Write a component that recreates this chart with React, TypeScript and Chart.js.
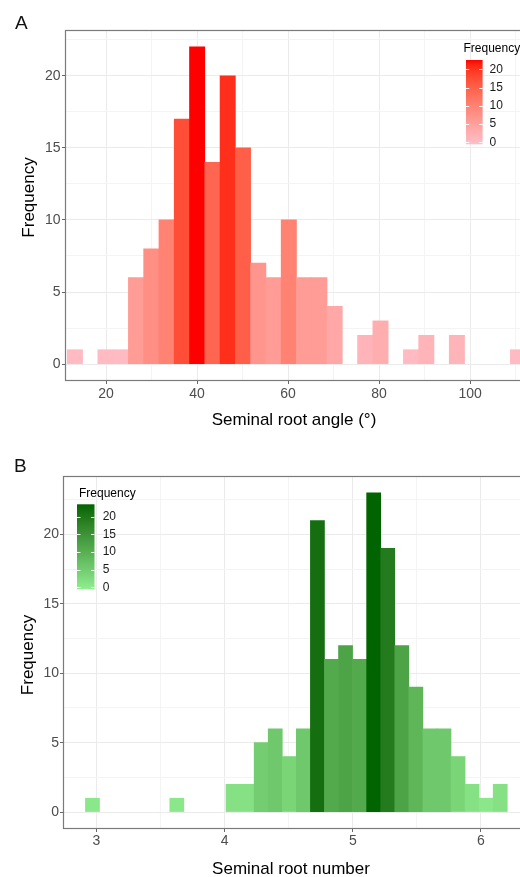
import React, { useEffect, useRef } from 'react';
import { Chart, registerables } from 'chart.js';

Chart.register(...registerables);

const FONT = '"Liberation Sans", Arial, Helvetica, sans-serif';

// ---- A: seminal root angle, 30-bin histogram ----
const angleBinFirstCentre = 13.17; // degrees
const angleBinWidth = 3.357;
const angleCounts = [1, 0, 1, 1, 6, 8, 10, 17, 22, 14, 20, 15, 7, 6, 10, 6, 6, 4, 0, 2, 3, 0, 1, 2, 0, 2, 0, 0, 0, 1];
const angleXMajor = [20, 40, 60, 80, 100];
const angleXMinor = [30, 50, 70, 90, 110];
const angleYMajor = [0, 5, 10, 15, 20];
const angleYMinor = [2.5, 7.5, 12.5, 17.5, 22.5];
const angleXLimits = [11.21, 112.5];
const angleYLimits = [-1.1, 23.1];

// ---- B: seminal root number, 30-bin histogram ----
const numberBinFirstCentre = 2.969;
const numberBinWidth = 0.1097;
const numberCounts = [1, 0, 0, 0, 0, 0, 1, 0, 0, 0, 2, 2, 5, 6, 4, 6, 21, 11, 12, 11, 23, 19, 12, 9, 6, 6, 4, 2, 1, 2];
const numberXMajor = [3, 4, 5, 6];
const numberXMinor = [3.5, 4.5, 5.5];
const numberYMajor = [0, 5, 10, 15, 20];
const numberYMinor = [2.5, 7.5, 12.5, 17.5, 22.5];
const numberXLimits = [2.747, 6.367];
const numberYLimits = [-1.15, 24.15];

const legendBreaks = [0, 5, 10, 15, 20];

// ---- colour ramp interpolated in CIELAB ----
function hexToRgb(h: string): number[] {
  const n = parseInt(h.slice(1), 16);
  return [(n >> 16) & 255, (n >> 8) & 255, n & 255];
}
const toLin = (c: number) => {
  c /= 255;
  return c <= 0.04045 ? c / 12.92 : Math.pow((c + 0.055) / 1.055, 2.4);
};
const fromLin = (c: number) => {
  const v = c <= 0.0031308 ? 12.92 * c : 1.055 * Math.pow(c, 1 / 2.4) - 0.055;
  return Math.round(Math.min(1, Math.max(0, v)) * 255);
};
const Xn = 0.95047, Yn = 1, Zn = 1.08883;
const fLab = (t: number) => (t > 0.008856 ? Math.cbrt(t) : 7.787 * t + 16 / 116);
const fLabInv = (t: number) => (t > 0.206893 ? t * t * t : (t - 16 / 116) / 7.787);
function rgbToLab(rgb: number[]): number[] {
  const [R, G, B] = rgb.map(toLin);
  const X = 0.4124 * R + 0.3576 * G + 0.1805 * B;
  const Y = 0.2126 * R + 0.7152 * G + 0.0722 * B;
  const Z = 0.0193 * R + 0.1192 * G + 0.9505 * B;
  const fx = fLab(X / Xn), fy = fLab(Y / Yn), fz = fLab(Z / Zn);
  return [116 * fy - 16, 500 * (fx - fy), 200 * (fy - fz)];
}
function labToRgb(lab: number[]): number[] {
  const [L, a, b] = lab;
  const fy = (L + 16) / 116, fx = fy + a / 500, fz = fy - b / 200;
  const X = Xn * fLabInv(fx), Y = Yn * fLabInv(fy), Z = Zn * fLabInv(fz);
  const R = 3.2406 * X - 1.5372 * Y - 0.4986 * Z;
  const G = -0.9689 * X + 1.8758 * Y + 0.0415 * Z;
  const B = 0.0557 * X - 0.204 * Y + 1.057 * Z;
  return [fromLin(R), fromLin(G), fromLin(B)];
}
function makeRamp(low: string, high: string) {
  const a = rgbToLab(hexToRgb(low));
  const b = rgbToLab(hexToRgb(high));
  return (t: number) => {
    const u = Math.min(1, Math.max(0, t));
    const [r, g, bl] = labToRgb(a.map((v, i) => v + (b[i] - v) * u));
    return `rgb(${r},${g},${bl})`;
  };
}

type PanelSpec = {
  tag: string;
  tagX: number;
  tagY: number;
  counts: number[];
  firstCentre: number;
  binWidth: number;
  xMajor: number[];
  xMinor: number[];
  yMajor: number[];
  yMinor: number[];
  xLimits: number[];
  yLimits: number[];
  low: string;
  high: string;
  xTitle: string;
  xTitlePos: number[];
  yTitle: string;
  yTitlePos: number[];
  padding: { top: number; right: number; left: number; bottom: number };
  yAxisWidth: number;
  xAxisHeight: number;
  xTickPad: number;
  yTickPad: number;
  legend: { titlePos: number[]; bar: number[]; labelX: number };
};

function makeDecor(spec: PanelSpec, ramp: (t: number) => string, maxCount: number) {
  return {
    id: 'panelDecor',
    afterDraw(chart: any) {
      const { ctx, chartArea: a } = chart;
      ctx.save();
      // panel frame
      ctx.strokeStyle = '#7a7a7a';
      ctx.lineWidth = 1.2;
      ctx.strokeRect(a.left - 0.5, a.top - 0.5, a.right - a.left + 1, a.bottom - a.top + 1);

      // panel tag
      ctx.fillStyle = '#111111';
      ctx.font = `19px ${FONT}`;
      ctx.textAlign = 'left';
      ctx.textBaseline = 'alphabetic';
      ctx.fillText(spec.tag, spec.tagX, spec.tagY);

      // axis titles
      ctx.fillStyle = '#000000';
      ctx.font = `17px ${FONT}`;
      ctx.textAlign = 'center';
      ctx.textBaseline = 'middle';
      ctx.fillText(spec.xTitle, spec.xTitlePos[0], spec.xTitlePos[1]);
      ctx.save();
      ctx.translate(spec.yTitlePos[0], spec.yTitlePos[1]);
      ctx.rotate(-Math.PI / 2);
      ctx.fillText(spec.yTitle, 0, 0);
      ctx.restore();

      // colour bar legend
      const L = spec.legend;
      const [bx, by, bw, bh] = L.bar;
      ctx.textAlign = 'left';
      ctx.font = `12px ${FONT}`;
      ctx.fillStyle = '#000000';
      ctx.fillText('Frequency', L.titlePos[0], L.titlePos[1]);
      const grad = ctx.createLinearGradient(0, by + bh, 0, by);
      for (let i = 0; i <= 20; i++) grad.addColorStop(i / 20, ramp(i / 20));
      ctx.fillStyle = grad;
      ctx.fillRect(bx, by, bw, bh);
      const inset = 2;
      ctx.strokeStyle = 'rgba(255,255,255,0.9)';
      ctx.lineWidth = 1;
      ctx.fillStyle = '#1a1a1a';
      legendBreaks.forEach((v) => {
        const y = by + bh - inset - (v / maxCount) * (bh - 2 * inset);
        const yy = Math.round(y) + 0.5;
        ctx.beginPath();
        ctx.moveTo(bx, yy);
        ctx.lineTo(bx + bw / 5, yy);
        ctx.moveTo(bx + bw - bw / 5, yy);
        ctx.lineTo(bx + bw, yy);
        ctx.stroke();
        ctx.fillText(String(v), L.labelX, y);
      });
      ctx.restore();
    },
  };
}

function axisOptions(major: number[], minor: number[], limits: number[], pad: number, fit: (s: any) => void) {
  const all = [...major, ...minor].sort((p, q) => p - q);
  const isMajor = (v: number) => major.includes(v);
  return {
    type: 'linear',
    min: limits[0],
    max: limits[1],
    offset: false,
    afterBuildTicks: (scale: any) => {
      scale.ticks = all.map((value) => ({ value }));
    },
    afterFit: fit,
    ticks: {
      autoSkip: false,
      maxRotation: 0,
      padding: pad,
      color: '#4D4D4D',
      font: { family: FONT, size: 14 },
      callback: (value: number) => (isMajor(value) ? String(value) : ''),
    },
    grid: {
      offset: false,
      drawTicks: true,
      tickLength: 4,
      lineWidth: 1,
      color: (c: any) => (c.tick && isMajor(c.tick.value) ? '#EBEBEB' : '#F4F4F4'),
      tickColor: (c: any) => (c.tick && isMajor(c.tick.value) ? '#666666' : 'rgba(0,0,0,0)'),
      tickWidth: 1,
    },
    border: { display: false },
  };
}

const CANVAS_W = 540;

function HistogramPanel({ spec, top, height }: { spec: PanelSpec; top: number; height: number }) {
  const ref = useRef<HTMLCanvasElement>(null);
  useEffect(() => {
    const maxCount = Math.max(...spec.counts);
    const ramp = makeRamp(spec.low, spec.high);
    // empty bins stay in the data (they fix the bar width) but draw nothing
    const points = spec.counts.map((c, i) => ({
      x: spec.firstCentre + i * spec.binWidth,
      y: c > 0 ? c : null,
    }));
    const chart = new Chart(ref.current as HTMLCanvasElement, {
      type: 'bar',
      data: {
        datasets: [
          {
            data: points as any,
            backgroundColor: spec.counts.map((c) => (c > 0 ? ramp(c / maxCount) : 'rgba(0,0,0,0)')),
            borderWidth: 0,
            barPercentage: 1,
            categoryPercentage: 1,
          },
        ],
      },
      options: {
        animation: false,
        responsive: false,
        devicePixelRatio: 1,
        layout: { padding: spec.padding },
        plugins: { legend: { display: false }, tooltip: { enabled: false } },
        scales: {
          x: axisOptions(spec.xMajor, spec.xMinor, spec.xLimits, spec.xTickPad, (s: any) => {
            s.height = spec.xAxisHeight;
          }) as any,
          y: axisOptions(spec.yMajor, spec.yMinor, spec.yLimits, spec.yTickPad, (s: any) => {
            s.width = spec.yAxisWidth;
          }) as any,
        },
      },
      plugins: [makeDecor(spec, ramp, maxCount)],
    });
    return () => chart.destroy();
  }, [spec]);
  return (
    <canvas
      ref={ref}
      width={CANVAS_W}
      height={height}
      style={{ position: 'absolute', left: 0, top, width: CANVAS_W, height }}
    />
  );
}

const angleSpec: PanelSpec = {
  tag: 'A',
  tagX: 15,
  tagY: 28.5,
  counts: angleCounts,
  firstCentre: angleBinFirstCentre,
  binWidth: angleBinWidth,
  xMajor: angleXMajor,
  xMinor: angleXMinor,
  yMajor: angleYMajor,
  yMinor: angleYMinor,
  xLimits: angleXLimits,
  yLimits: angleYLimits,
  low: '#FFC0CB',
  high: '#FF0000',
  xTitle: 'Seminal root angle (°)',
  xTitlePos: [294, 420.5],
  yTitle: 'Frequency',
  yTitlePos: [29, 197.5],
  padding: { top: 31, right: CANVAS_W - 527, left: 0, bottom: 0 },
  yAxisWidth: 66,
  xAxisHeight: 60,
  xTickPad: 2,
  yTickPad: 1.5,
  legend: { titlePos: [463.5, 48.5], bar: [466, 60, 16.6, 84.3], labelX: 489.5 },
};

const numberSpec: PanelSpec = {
  tag: 'B',
  tagX: 14,
  tagY: 31.7,
  counts: numberCounts,
  firstCentre: numberBinFirstCentre,
  binWidth: numberBinWidth,
  xMajor: numberXMajor,
  xMinor: numberXMinor,
  yMajor: numberYMajor,
  yMinor: numberYMinor,
  xLimits: numberXLimits,
  yLimits: numberYLimits,
  low: '#90EE90',
  high: '#006400',
  xTitle: 'Seminal root number',
  xTitlePos: [291, 429],
  yTitle: 'Frequency',
  yTitlePos: [28, 215],
  padding: { top: 37, right: CANVAS_W - 528, left: 0, bottom: 0 },
  yAxisWidth: 64,
  xAxisHeight: 57,
  xTickPad: 1,
  yTickPad: 1,
  legend: { titlePos: [79, 53.5], bar: [77, 64.3, 17.5, 85], labelX: 102.7 },
};

export default function App() {
  return (
    <div
      style={{
        position: 'fixed',
        left: 0,
        top: 0,
        width: 520,
        height: 877,
        overflow: 'hidden',
        background: '#ffffff',
      }}
    >
      <HistogramPanel spec={angleSpec} top={0} height={440} />
      <HistogramPanel spec={numberSpec} top={440} height={445} />
    </div>
  );
}
